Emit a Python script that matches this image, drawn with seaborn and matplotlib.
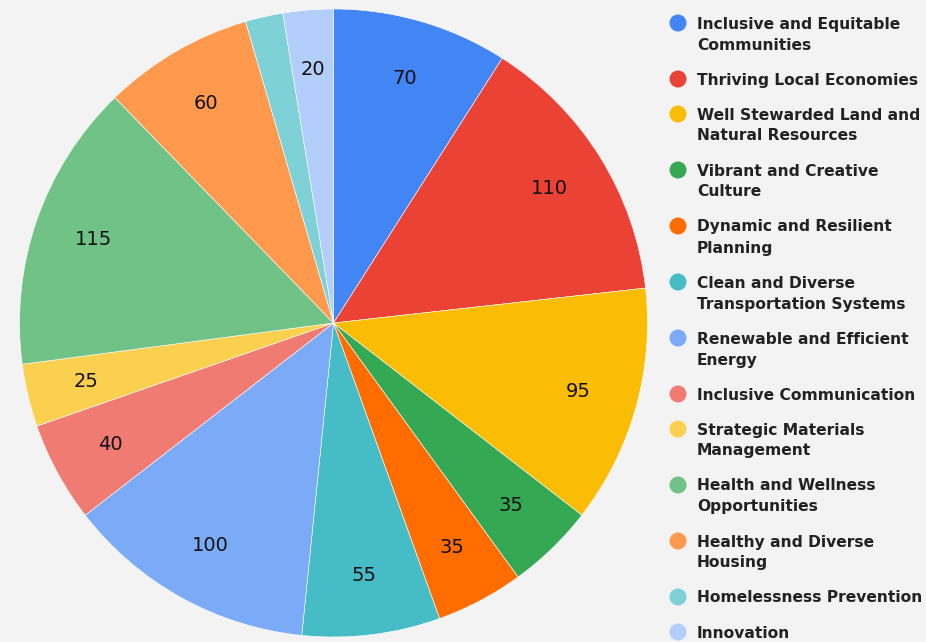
import matplotlib
matplotlib.use('Agg')
import matplotlib.pyplot as plt
import seaborn as sns

# 파이 데이터 (위에서 시계방향)
categories = ['Inclusive and Equitable Communities', 'Thriving Local Economies',
              'Well Stewarded Land and Natural Resources', 'Vibrant and Creative Culture',
              'Dynamic and Resilient Planning', 'Clean and Diverse Transportation Systems',
              'Renewable and Efficient Energy', 'Inclusive Communication',
              'Strategic Materials Management', 'Health and Wellness Opportunities',
              'Healthy and Diverse Housing', 'Homelessness Prevention', 'Innovation']
values = [70, 110, 95, 35, 35, 55, 100, 40, 25, 115, 60, 15, 20]
legend_lines = [['Inclusive and Equitable', 'Communities'],
                ['Thriving Local Economies'],
                ['Well Stewarded Land and', 'Natural Resources'],
                ['Vibrant and Creative', 'Culture'],
                ['Dynamic and Resilient', 'Planning'],
                ['Clean and Diverse', 'Transportation Systems'],
                ['Renewable and Efficient', 'Energy'],
                ['Inclusive Communication'],
                ['Strategic Materials', 'Management'],
                ['Health and Wellness', 'Opportunities'],
                ['Healthy and Diverse', 'Housing'],
                ['Homelessness Prevention'],
                ['Innovation']]
colors = ['#4285F4', '#EA4335', '#FBBC04', '#34A853', '#FF6D01', '#46BDC6', '#7BAAF7',
          '#F07B72', '#FCD04F', '#71C287', '#FF994D', '#7ED1D7', '#B3CEFB']

sns.set_theme(style='white', rc={'figure.facecolor': '#f3f3f3', 'axes.facecolor': '#f3f3f3'})
plt.rcParams['font.family'] = ['DejaVu Sans']

W, H = 926, 642
fig = plt.figure(figsize=(W / 100, H / 100), dpi=100)
palette = sns.color_palette(colors)

# 파이 영역 (픽셀 기준)
cx, cy, r = 333.5, 323, 314
ax = fig.add_axes([(cx - r) / W, (H - cy - r) / H, 2 * r / W, 2 * r / H])
total = sum(values)


def fmt(p):
    v = int(round(p * total / 100))
    return '' if v < 20 else str(v)


wedges, texts, autotexts = ax.pie(values, colors=palette, startangle=90, counterclock=False,
                                  radius=1, autopct=fmt, pctdistance=0.81,
                                  wedgeprops={'edgecolor': 'white', 'linewidth': 0.4},
                                  textprops={'fontsize': 14, 'color': '#111111'})
ax.set_xlim(-1, 1)
ax.set_ylim(-1, 1)
ax.set_aspect('equal')
ax.axis('off')

# 범례 (직접 배치)
lax = fig.add_axes([0, 0, 1, 1])
lax.set_xlim(0, W)
lax.set_ylim(H, 0)
lax.axis('off')
lax.patch.set_alpha(0)
y = 24
for lines, col in zip(legend_lines, palette):
    lax.scatter([678], [y - 1], s=150, color=col, edgecolors='none')
    for i, line in enumerate(lines):
        lax.text(697, y + i * 21, line, fontsize=11.2, fontweight='bold', color='#222222',
                 va='center', ha='left')
    y += (len(lines) - 1) * 21 + 35

fig.savefig('out.png', dpi=100, facecolor='#f3f3f3')
